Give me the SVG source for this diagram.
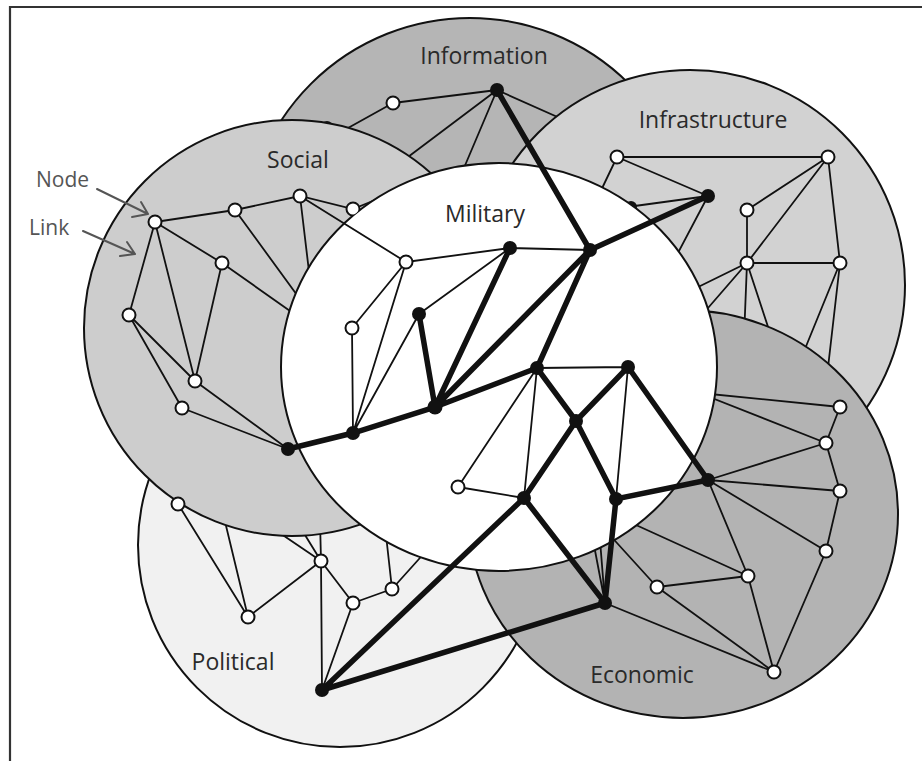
<svg xmlns="http://www.w3.org/2000/svg" width="922" height="761" viewBox="0 0 922 761">
<style>
.ring{stroke:#111;stroke-width:2}
.ln{stroke:#111;stroke-width:1.8;fill:none;stroke-linecap:round}
.tk{stroke:#111;stroke-width:5.5;fill:none;stroke-linecap:round}
.wn{fill:#fff;stroke:#111;stroke-width:2}
.bn{fill:#111}
.lbl{font-family:"Open Sans","Liberation Sans",sans-serif;font-size:23px;fill:#2a2a2a;text-anchor:middle}
.ann{font-family:"Open Sans","Liberation Sans",sans-serif;font-size:21px;fill:#555}
.arr{stroke:#555;stroke-width:2;fill:none;stroke-linecap:round;stroke-linejoin:round}
</style>
<defs>
<circle id="cInfo" cx="470" cy="243" r="225"/>
<circle id="cInfra" cx="690" cy="285" r="215"/>
<circle id="cSoc" cx="292" cy="328" r="208"/>
<circle id="cPol" cx="340" cy="545" r="202"/>
<ellipse id="cEco" cx="683" cy="514" rx="215" ry="204"/>
<ellipse id="cMil" cx="499" cy="367" rx="218" ry="204"/>
<mask id="mInfo" maskUnits="userSpaceOnUse" x="0" y="0" width="922" height="761">
<use href="#cInfo" fill="#fff"/><use href="#cSoc" fill="#000"/><use href="#cInfra" fill="#000"/><use href="#cMil" fill="#000"/>
</mask>
<mask id="mPol" maskUnits="userSpaceOnUse" x="0" y="0" width="922" height="761">
<use href="#cPol" fill="#fff"/><use href="#cSoc" fill="#000"/><use href="#cEco" fill="#000"/><use href="#cMil" fill="#000"/>
</mask>
<mask id="mInfra" maskUnits="userSpaceOnUse" x="0" y="0" width="922" height="761">
<use href="#cInfra" fill="#fff"/><use href="#cEco" fill="#000"/><use href="#cMil" fill="#000"/>
</mask>
<mask id="mSoc" maskUnits="userSpaceOnUse" x="0" y="0" width="922" height="761">
<use href="#cSoc" fill="#fff"/><use href="#cMil" fill="#000"/>
</mask>
<mask id="mEco" maskUnits="userSpaceOnUse" x="0" y="0" width="922" height="761">
<use href="#cEco" fill="#fff"/><use href="#cMil" fill="#000"/>
</mask>
</defs>
<rect width="922" height="761" fill="#fff"/>
<path d="M10,761 V7 H922" fill="none" stroke="#333" stroke-width="2.2"/>

<g id="layer-information"><use href="#cInfo" class="ring" fill="#b5b5b5"/></g>
<g id="layer-political"><use href="#cPol" class="ring" fill="#f1f1f1"/></g>
<g id="layer-infrastructure"><use href="#cInfra" class="ring" fill="#d2d2d2"/></g>
<g id="layer-social"><use href="#cSoc" class="ring" fill="#cdcdcd"/></g>
<g id="layer-economic"><use href="#cEco" class="ring" fill="#b3b3b3"/></g>
<g id="layer-military"><use href="#cMil" class="ring" fill="#fff"/></g>

<g id="connectors">
<g id="links-information" class="ln" mask="url(#mInfo)">
<path d="M393,103 L497,90 M393,103 L330,138 M497,90 L400,163 M497,90 L458,182 M497,90 L580,127"/>
</g>
<g id="links-political" class="ln" mask="url(#mPol)">
<path d="M178,504 L248,617 M248,617 L221,505 M248,617 L321,561 M321,561 L265,523 M321,561 L297,522 M321,561 L320,520 M321,561 L353,603 M321,561 L322,690 M353,603 L392,589 M353,603 L322,690 M392,589 L386,535 M392,589 L428,549"/>
</g>
<g id="links-infrastructure" class="ln" mask="url(#mInfra)">
<path d="M617,157 L828,157 M617,157 L708,196 M617,157 L595,203 M708,196 L620,208 M708,196 L670,268 M828,157 L747,210 M828,157 L747,263 M828,157 L840,263 M747,210 L747,263 M747,263 L840,263 M747,263 L690,291 M747,263 L695,323 M747,263 L744,338 M747,263 L773,342 M840,263 L798,366 M840,263 L826,385"/>
</g>
<g id="links-social" class="ln" mask="url(#mSoc)">
<path d="M155,222 L235,210 L300,196 L353,209 L385,196 M300,196 L310,280 M235,210 L305,306 M222,263 L300,318 M155,222 L222,263 M155,222 L129,315 M155,222 L195,381 M129,315 L195,381 M129,315 L182,408 M222,263 L195,381 M195,381 L288,449 M182,408 L288,449"/>
</g>
<g id="links-economic" class="ln" mask="url(#mEco)">
<path d="M690,392 L840,407 M684,387 L826,443 M708,480 L826,443 M708,480 L840,491 M708,480 L826,551 M708,480 L748,576 M840,407 L826,443 L840,491 L826,551 L774,672 M748,576 L657,587 M748,576 L774,672 M657,587 L774,672 M605,603 L774,672 M657,587 L607,532 M748,576 L625,520 M605,603 L593,540 M605,603 L600,540"/>
</g>
<g id="links-military" class="ln">
<path d="M406,262 L510,248 M406,262 L352,328 M406,262 L353,433 M352,328 L353,433 M419,314 L353,433 M419,314 L510,248 M510,248 L590,250 M537,368 L628,367 M537,368 L458,487 M537,368 L524,498 M458,487 L524,498 M628,367 L616,499"/>
</g>
<g id="links-cross" class="ln">
<path d="M300,196 L406,262"/>
</g>
<g id="links-thick" class="tk">
<path d="M497,90 L590,250 M590,250 L708,196 M590,250 L435,407 M590,250 L537,368 M510,248 L435,407 M419,314 L435,407 L353,433 L288,449 M435,407 L537,368 L576,421 L628,367 L708,480 M576,421 L524,498 M576,421 L616,499 L708,480 M524,498 L605,603 M616,499 L605,603 M524,498 L322,690 M605,603 L322,690"/>
</g>
</g>

<g id="hidden-nodes">
<g id="i-hidden" mask="url(#mInfo)"><circle class="bn" cx="327" cy="127" r="6"/></g>
<g id="n-hidden" mask="url(#mInfra)"><circle class="bn" cx="631" cy="207" r="6"/></g>
<g id="s9" mask="url(#mSoc)"><circle class="wn" cx="353" cy="209" r="6.5"/></g>
</g>

<g id="nodes">
<g id="i1"><circle class="wn" cx="393" cy="103" r="6.5"/></g>
<g id="ib"><circle class="bn" cx="497" cy="90" r="7"/></g>
<g id="n1"><circle class="wn" cx="617" cy="157" r="6.5"/></g>
<g id="n2"><circle class="wn" cx="828" cy="157" r="6.5"/></g>
<g id="n3"><circle class="bn" cx="708" cy="196" r="7"/></g>
<g id="n4"><circle class="wn" cx="747" cy="210" r="6.5"/></g>
<g id="n5"><circle class="wn" cx="747" cy="263" r="6.5"/></g>
<g id="n6"><circle class="wn" cx="840" cy="263" r="6.5"/></g>
<g id="s1"><circle class="wn" cx="155" cy="222" r="6.5"/></g>
<g id="s2"><circle class="wn" cx="235" cy="210" r="6.5"/></g>
<g id="s3"><circle class="wn" cx="300" cy="196" r="6.5"/></g>
<g id="s4"><circle class="wn" cx="222" cy="263" r="6.5"/></g>
<g id="s5"><circle class="wn" cx="129" cy="315" r="6.5"/></g>
<g id="s6"><circle class="wn" cx="195" cy="381" r="6.5"/></g>
<g id="s7"><circle class="wn" cx="182" cy="408" r="6.5"/></g>
<g id="s8"><circle class="bn" cx="288" cy="449" r="7"/></g>
<g id="p1"><circle class="wn" cx="178" cy="504" r="6.5"/></g>
<g id="p2"><circle class="wn" cx="248" cy="617" r="6.5"/></g>
<g id="p3"><circle class="wn" cx="321" cy="561" r="6.5"/></g>
<g id="p4"><circle class="wn" cx="353" cy="603" r="6.5"/></g>
<g id="p5"><circle class="wn" cx="392" cy="589" r="6.5"/></g>
<g id="pb"><circle class="bn" cx="322" cy="690" r="7"/></g>
<g id="e1"><circle class="wn" cx="840" cy="407" r="6.5"/></g>
<g id="e2"><circle class="wn" cx="826" cy="443" r="6.5"/></g>
<g id="e3"><circle class="wn" cx="840" cy="491" r="6.5"/></g>
<g id="e4"><circle class="wn" cx="826" cy="551" r="6.5"/></g>
<g id="e5"><circle class="wn" cx="748" cy="576" r="6.5"/></g>
<g id="e6"><circle class="wn" cx="657" cy="587" r="6.5"/></g>
<g id="e7"><circle class="wn" cx="774" cy="672" r="6.5"/></g>
<g id="eh"><circle class="bn" cx="708" cy="480" r="7"/></g>
<g id="mb10"><circle class="bn" cx="605" cy="603" r="7"/></g>
<g id="mw1"><circle class="wn" cx="406" cy="262" r="6.5"/></g>
<g id="mw2"><circle class="wn" cx="352" cy="328" r="6.5"/></g>
<g id="mw3"><circle class="wn" cx="458" cy="487" r="6.5"/></g>
<g id="mb1"><circle class="bn" cx="510" cy="248" r="7"/></g>
<g id="mb2"><circle class="bn" cx="419" cy="314" r="7"/></g>
<g id="mh"><circle class="bn" cx="590" cy="250" r="7"/></g>
<g id="mb3"><circle class="bn" cx="353" cy="433" r="7"/></g>
<g id="mb4"><circle class="bn" cx="435" cy="407" r="7.5"/></g>
<g id="mb5"><circle class="bn" cx="537" cy="368" r="7"/></g>
<g id="mb6"><circle class="bn" cx="628" cy="367" r="7"/></g>
<g id="mb7"><circle class="bn" cx="576" cy="421" r="7"/></g>
<g id="mb8"><circle class="bn" cx="524" cy="498" r="7"/></g>
<g id="mb9"><circle class="bn" cx="616" cy="499" r="7"/></g>
</g>

<g id="labels">
<text class="lbl" x="484" y="64">Information</text>
<text class="lbl" x="713" y="128">Infrastructure</text>
<text class="lbl" x="298" y="168">Social</text>
<text class="lbl" x="485" y="222">Military</text>
<text class="lbl" x="233" y="670">Political</text>
<text class="lbl" x="642" y="683">Economic</text>
</g>

<g id="annotations">
<text class="ann" x="36" y="187">Node</text>
<text class="ann" x="29" y="235">Link</text>
<path class="arr" d="M97,189 L148,214 M132,217 L148,214 L141,202"/>
<path class="arr" d="M83,231 L135,254 M120,256 L135,254 L127,242"/>
</g>
</svg>
